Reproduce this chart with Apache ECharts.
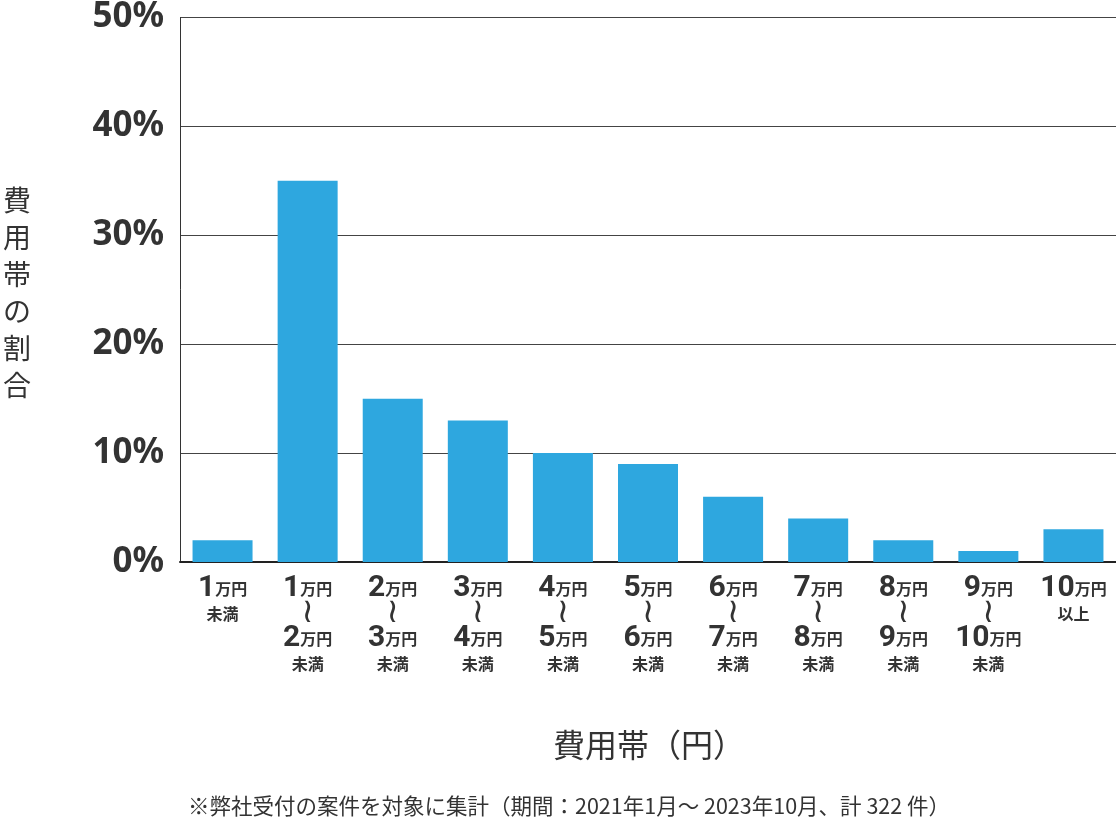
<!DOCTYPE html>
<html><head><meta charset="utf-8">
<script src="https://cdn.jsdelivr.net/npm/echarts@6/dist/echarts.min.js"></script>
<style>html,body{margin:0;padding:0;background:#fff}#c{width:1116px;height:828px}</style>
</head><body><div id="c"></div>
<script>
const categories = ['1万円未満','1万円～2万円未満','2万円～3万円未満','3万円～4万円未満','4万円～5万円未満','5万円～6万円未満','6万円～7万円未満','7万円～8万円未満','8万円～9万円未満','9万円～10万円未満','10万円以上'];
const shares = [2, 35, 15, 13, 10, 9, 6, 4, 2, 1, 3];
const yTicks = [0, 10, 20, 30, 40, 50];
const yAxisTitle = '費用帯の割合';
const xAxisTitle = '費用帯（円）';
const footnote = '※弊社受付の案件を対象に集計（期間：2021年1月～ 2023年10月、計 322 件）';

const JP = 'Noto Sans CJK JP';
function fmt(v){
  let m = v.match(/^(\d+)万円～(\d+)万円未満$/);
  if (m) return '{n|'+m[1]+'}{u|万円}\n{t|≀}\n{n|'+m[2]+'}{u|万円}\n{s|未満}';
  m = v.match(/^(\d+)万円(未満|以上)$/);
  if (m) return '{n|'+m[1]+'}{u|万円}\n{s|'+m[2]+'}';
  return v;
}
const chart = echarts.init(document.getElementById('c'));
chart.setOption({
  animation:false,
  grid:{left:180,right:0,top:14,bottom:266,containLabel:false},
  xAxis:{type:'category',data:categories,
    axisLine:{lineStyle:{color:'#222',width:2}},
    axisTick:{show:false},
    axisLabel:{interval:0,margin:14,formatter:fmt,color:'#333',fontSize:16,
      rich:{
        n:{fontFamily:'Roboto',fontWeight:'bold',fontSize:30,color:'#333',lineHeight:25},
        u:{fontFamily:JP,fontWeight:'bold',fontSize:16,color:'#333',lineHeight:25},
        s:{fontFamily:JP,fontWeight:'bold',fontSize:16,color:'#333',lineHeight:25},
        t:{fontFamily:'DejaVu Sans',fontWeight:'normal',fontSize:34,color:'#333',lineHeight:25}
      }}
  },
  yAxis:{type:'value',min:0,max:50,interval:10,
    axisLine:{show:true,lineStyle:{color:'#333',width:1}},
    axisTick:{show:false},
    splitLine:{lineStyle:{color:'#444',width:1}},
    axisLabel:{margin:16,formatter:v=>v+'%',color:'#333',fontFamily:'Noto Sans',fontWeight:'bold',fontSize:35,verticalAlign:'middle',padding:[6,0,0,0]}
  },
  series:[{type:'bar',data:shares,barWidth:60,itemStyle:{color:'#2ea7df'}}],
  graphic:[
    {type:'text',x:17,y:182,style:{text:yAxisTitle.split('').join('\n'),fontFamily:JP,fontSize:28,lineHeight:37,fill:'#333',align:'center'}},
    {type:'text',x:649,y:745,style:{text:xAxisTitle,fontFamily:JP,fontSize:32,fill:'#333',align:'center',verticalAlign:'middle'}},
    {type:'text',x:569,y:806,style:{text:footnote,fontFamily:JP,fontSize:21.5,fill:'#333',align:'center',verticalAlign:'middle'}}
  ]
});
</script></body></html>
